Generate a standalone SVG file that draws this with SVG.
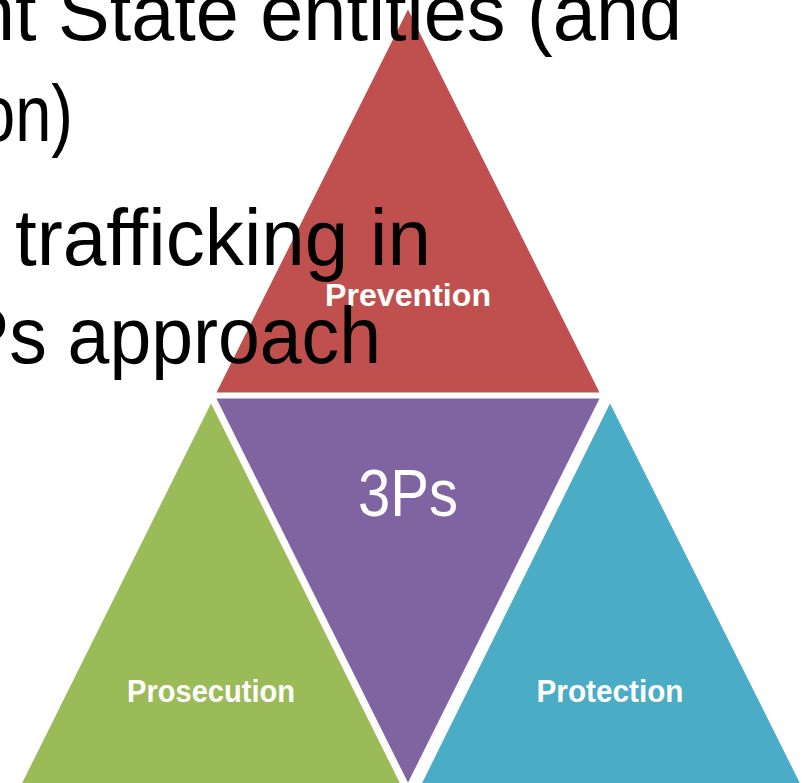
<svg xmlns="http://www.w3.org/2000/svg" width="809" height="783" viewBox="0 0 809 783">
<style>
.tri{stroke:#fff;stroke-width:3;stroke-linejoin:miter}
.lbl{font-family:"Liberation Sans",Arial,sans-serif;font-weight:bold;font-size:32px;fill:#fff;text-anchor:middle}
.big{font-family:"Liberation Sans",Arial,sans-serif;font-size:80px;fill:#000}
</style>
<rect width="809" height="783" fill="#fff"/>
<g id="prevention">
<polygon class="tri" fill="#C0504D" points="408,6 214,394 602,394"/>
<text class="lbl" x="408" y="306" textLength="166" lengthAdjust="spacingAndGlyphs">Prevention</text>
</g>
<g id="threePs">
<polygon class="tri" fill="#8064A2" points="214,397 602,397 408,786"/>
<text x="408" y="516" font-family="'Liberation Sans',Arial,sans-serif" font-size="66" fill="#fff" text-anchor="middle" textLength="100" lengthAdjust="spacingAndGlyphs">3Ps</text>
</g>
<g id="prosecution">
<polygon class="tri" fill="#9BBB59" points="211,400 19,786 403,786"/>
<text class="lbl" x="211" y="702" textLength="168" lengthAdjust="spacingAndGlyphs">Prosecution</text>
</g>
<g id="protection">
<polygon class="tri" fill="#4BACC6" points="610,400 419,786 803,786"/>
<text class="lbl" x="610" y="702" textLength="147" lengthAdjust="spacingAndGlyphs">Protection</text>
</g>
<g id="bodytext">
<text class="big" x="-28" y="40" textLength="710" lengthAdjust="spacingAndGlyphs">nt State entities (and</text>
<text class="big" x="-21" y="141" textLength="94" lengthAdjust="spacingAndGlyphs">on)</text>
<text class="big" x="15" y="265" textLength="416" lengthAdjust="spacingAndGlyphs">trafficking in</text>
<text class="big" x="-41" y="363" textLength="422" lengthAdjust="spacingAndGlyphs">Ps approach</text>
</g>
</svg>
